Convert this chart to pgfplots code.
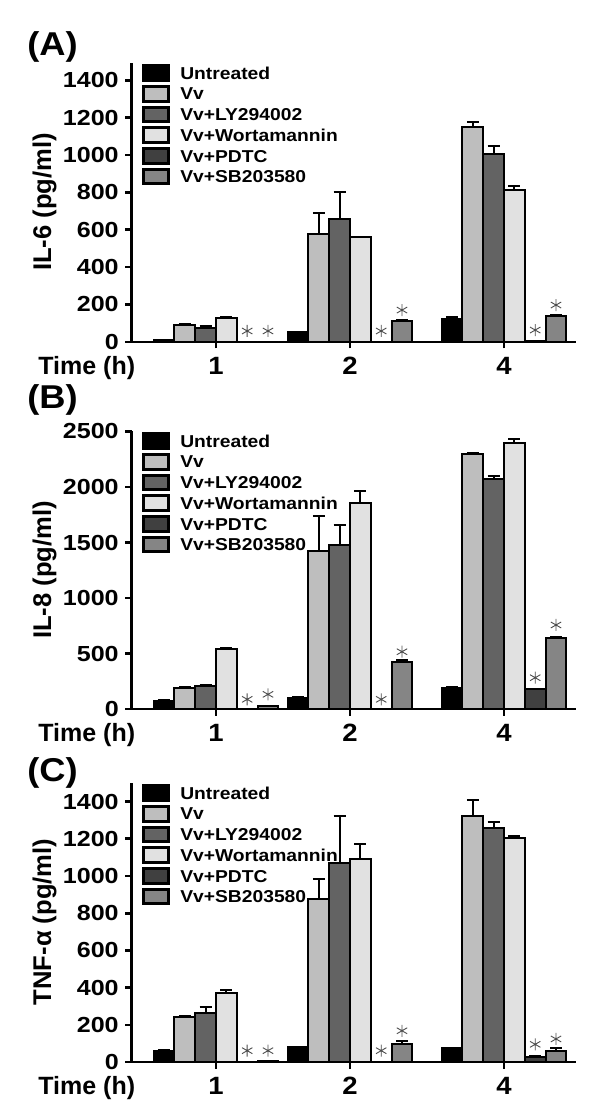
\documentclass[border=0pt]{standalone}
\usepackage{fontspec}
\setmainfont{Liberation Sans}
\newfontfamily\legfont[FakeStretch=1.12]{Liberation Sans}
\newfontfamily\tickfont[FakeStretch=1.15]{Liberation Sans}
\newfontfamily\labfont[FakeStretch=1.1]{Liberation Sans}
\usepackage{pgfplots}
\pgfplotsset{compat=1.18}

\definecolor{cUn}{HTML}{000000}
\definecolor{cVv}{HTML}{BEBEBE}
\definecolor{cLY}{HTML}{636363}
\definecolor{cWo}{HTML}{E1E1E1}
\definecolor{cPD}{HTML}{404040}
\definecolor{cSB}{HTML}{858585}

\pgfplotsset{
  bars/.style={ybar, draw=black, line width=1pt, fill=#1,
    legend image code/.code={\draw[fill=#1,draw=black,line width=1.5pt] (0.75pt,-3.65pt) rectangle (13.25pt,3.65pt); \path (18.65pt,0pt);},
    error bars/.cd, y dir=plus, y explicit,
    error bar style={line width=1pt,black},
    error mark options={rotate=90,mark size=3pt,line width=1pt,black}},
  stars/.style={only marks, mark=asterisk, mark size=3pt, mark options={black!70, line width=0.45pt}, forget plot},
  panel/.style={
    scale only axis, anchor=south west,
    width=222.15pt,
    xmin=131.7, xmax=576, ymin=0,
    clip=false,
    axis x line*=bottom, axis y line*=left,
    axis line style={line width=1.3pt,-},
    tick style={line width=1.3pt,black},
    major tick length=3.3pt,
    tick align=outside,
    xtick={216,350,504}, xticklabels={1,2,4},
    bar width=20.8, bar shift=0pt,
    /pgf/number format/assume math mode=true,
    /pgf/number format/set thousands separator={},
    yticklabel style={font=\tickfont\bfseries\fontsize{10.9pt}{12pt}\selectfont, inner sep=0pt, xshift=-3pt},
    xticklabel style={font=\labfont\bfseries\fontsize{12.5pt}{14pt}\selectfont, inner sep=0pt, anchor=base, yshift=-12.8pt},
    legend style={at={(0.0232,1)}, anchor=north west, draw=none, fill=none,
      inner sep=0pt, outer sep=0pt, row sep=0pt,
      font=\legfont\bfseries\fontsize{8.6pt}{10pt}\selectfont,
      nodes={inner sep=0pt, text height=8.25pt, text depth=2.1pt}},
    legend cell align=left,
  }
}

\begin{document}
\begin{tikzpicture}
\useasboundingbox (0,0) rectangle (300pt,-558pt);

% Panel A
\begin{axis}[panel, at={(65.85pt,-170.9pt)}, height=139.55pt, ymax=1495, ytick={0,200,...,1400}]
\addplot[bars=cUn] coordinates {(164,10) +- (0,2) (298,52) +- (0,3) (452,122) +- (0,11)};
\addplot[bars=cVv] coordinates {(184.8,90) +- (0,5) (318.8,576) +- (0,113) (472.8,1150) +- (0,26)};
\addplot[bars=cLY] coordinates {(205.6,76) +- (0,9) (339.6,658) +- (0,147) (493.6,1007) +- (0,43)};
\addplot[bars=cWo] coordinates {(226.4,129) +- (0,2) (360.4,560) +- (0,0) (514.4,814) +- (0,21)};
\addplot[bars=cPD] coordinates {(247.2,0) +- (0,0) (381.2,0) +- (0,0) (535.2,3) +- (0,0)};
\addplot[bars=cSB] coordinates {(268,0) +- (0,0) (402,113) +- (0,3) (556,140) +- (0,3)};
\addplot[stars] coordinates {(247.2,58) (268,58) (381.2,58) (402,170) (535.2,63) (556,197)};
\legend{Untreated,Vv,Vv+LY294002,Vv+Wortamannin,Vv+PDTC,Vv+SB203580}
\end{axis}

% Panel B
\begin{axis}[panel, at={(65.85pt,-354.5pt)}, height=139.15pt, ymax=2507, ytick={0,500,...,2500}]
\addplot[bars=cUn] coordinates {(164,75) +- (0,4) (298,102) +- (0,5) (452,192) +- (0,4)};
\addplot[bars=cVv] coordinates {(184.8,192) +- (0,5) (318.8,1421) +- (0,318) (472.8,2300) +- (0,6)};
\addplot[bars=cLY] coordinates {(205.6,210) +- (0,8) (339.6,1480) +- (0,175) (493.6,2075) +- (0,27)};
\addplot[bars=cWo] coordinates {(226.4,541) +- (0,9) (360.4,1859) +- (0,105) (514.4,2400) +- (0,30)};
\addplot[bars=cPD] coordinates {(247.2,0) +- (0,0) (381.2,0) +- (0,0) (535.2,180) +- (0,4)};
\addplot[bars=cSB] coordinates {(268,27) +- (0,3) (402,426) +- (0,12) (556,637) +- (0,14)};
\addplot[stars] coordinates {(247.2,87) (268,132) (381.2,87) (402,516) (535.2,282) (556,757)};
\legend{Untreated,Vv,Vv+LY294002,Vv+Wortamannin,Vv+PDTC,Vv+SB203580}
\end{axis}

% Panel C
\begin{axis}[panel, at={(65.85pt,-531pt)}, height=139.65pt, ymax=1501.5, ytick={0,200,...,1400}]
\addplot[bars=cUn] coordinates {(164,61) +- (0,6) (298,79) +- (0,3) (452,74) +- (0,2)};
\addplot[bars=cVv] coordinates {(184.8,242) +- (0,4) (318.8,875) +- (0,110) (472.8,1324) +- (0,85)};
\addplot[bars=cLY] coordinates {(205.6,265) +- (0,31) (339.6,1070) +- (0,252) (493.6,1258) +- (0,31)};
\addplot[bars=cWo] coordinates {(226.4,373) +- (0,14) (360.4,1093) +- (0,79) (514.4,1203) +- (0,14)};
\addplot[bars=cPD] coordinates {(247.2,0) +- (0,0) (381.2,0) +- (0,0) (535.2,28) +- (0,3)};
\addplot[bars=cSB] coordinates {(268,3) +- (0,0) (402,98) +- (0,15) (556,61) +- (0,13)};
\addplot[stars] coordinates {(247.2,61) (268,61) (381.2,61) (402,168) (535.2,95) (556,124)};
\legend{Untreated,Vv,Vv+LY294002,Vv+Wortamannin,Vv+PDTC,Vv+SB203580}
\end{axis}

\begin{scope}[x=0.5pt,y=-0.5pt]
\node[anchor=base west, inner sep=0pt, font=\labfont\bfseries\fontsize{16.5pt}{18pt}\selectfont] at (27,55.2) {(A)};
\node[anchor=base west, inner sep=0pt, font=\labfont\bfseries\fontsize{16.5pt}{18pt}\selectfont] at (27,408.5) {(B)};
\node[anchor=base west, inner sep=0pt, font=\labfont\bfseries\fontsize{16.5pt}{18pt}\selectfont] at (27,781.8) {(C)};
\node[rotate=90, anchor=base, inner sep=0pt, font=\bfseries\fontsize{12.8pt}{14pt}\selectfont] at (51,202) {IL-6 (pg/ml)};
\node[rotate=90, anchor=base, inner sep=0pt, font=\bfseries\fontsize{12.8pt}{14pt}\selectfont] at (51,570) {IL-8 (pg/ml)};
\node[rotate=90, anchor=base, inner sep=0pt, font=\bfseries\fontsize{12.8pt}{14pt}\selectfont] at (51,922) {TNF-α (pg/ml)};
\node[anchor=base west, inner sep=0pt, font=\bfseries\fontsize{12.5pt}{14pt}\selectfont] at (38,374) {Time (h)};
\node[anchor=base west, inner sep=0pt, font=\bfseries\fontsize{12.5pt}{14pt}\selectfont] at (38,741.2) {Time (h)};
\node[anchor=base west, inner sep=0pt, font=\bfseries\fontsize{12.5pt}{14pt}\selectfont] at (38,1094.2) {Time (h)};
\end{scope}
\end{tikzpicture}
\end{document}
